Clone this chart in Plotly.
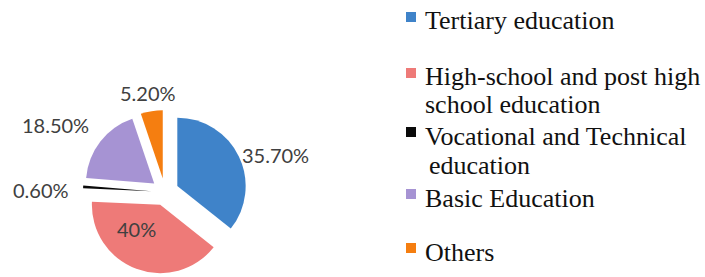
import plotly.graph_objects as go

# ---- data ----
categories = [
    "Tertiary education",
    "High-school and post high school education",
    "Vocational and Technical education",
    "Basic Education",
    "Others",
]
values = [35.7, 40.0, 0.6, 18.5, 5.2]
pct_labels = ["35.70%", "40%", "0.60%", "18.50%", "5.20%"]
legend_lines = [
    ["Tertiary education"],
    ["High-school and post high", "school education"],
    ["Vocational and Technical", "education"],
    ["Basic Education"],
    ["Others"],
]

colors = ["#3F83C9", "#EE7A78", "#0A0A0A", "#A693D3", "#F57E10"]

W, H = 705, 277


def px(x):
    return x / W


def py(y):
    return 1 - y / H


LABEL_FONT = dict(family="Lato", size=20, color="#404040")

fig = go.Figure()
fig.add_trace(go.Pie(
    labels=categories,
    values=values,
    text=pct_labels,
    textinfo="none",
    sort=False,
    direction="clockwise",
    rotation=0,
    pull=[0.2, 0.2, 0.2, 0.2, 0.2],
    marker=dict(colors=colors, line=dict(width=0)),
    domain=dict(x=[px(83), px(247)], y=[py(274), py(110)]),
    showlegend=False,
    hoverinfo="label+percent",
))

annotations = []
# percentage labels (placed as in the reference)
label_pos = [(275, 155), (136, 229), (41, 190), (55, 125), (148, 93)]
for i, (lx, ly) in enumerate(label_pos):
    annotations.append(dict(
        text=pct_labels[i], xref="paper", yref="paper",
        x=px(lx), y=py(ly), xanchor="center", yanchor="middle",
        showarrow=False, font=LABEL_FONT,
    ))

# custom legend (positions tuned to reference)
line_baselines = [[30], [86, 113], [145, 174], [207], [261]]
line_x = [[423], [423, 423], [423, 427], [423], [423]]
shapes = []
for i, cat in enumerate(categories):
    t = line_baselines[i][0] - 18
    shapes.append(dict(
        type="rect", xref="paper", yref="paper",
        x0=px(406), x1=px(416), y0=py(t + 10), y1=py(t),
        fillcolor=colors[i], line=dict(width=0),
    ))
    for j, line in enumerate(legend_lines[i]):
        annotations.append(dict(
            text=line, xref="paper", yref="paper",
            x=px(line_x[i][j]), y=py(line_baselines[i][j] - 9),
            xanchor="left", yanchor="middle", showarrow=False,
            font=dict(family="Liberation Serif", size=26, color="#111111"),
        ))

fig.update_layout(
    width=W, height=H,
    margin=dict(l=0, r=0, t=0, b=0),
    paper_bgcolor="white",
    plot_bgcolor="white",
    shapes=shapes,
    annotations=annotations,
)

fig.write_html(
    "out.html",
    config={"displayModeBar": False},
    post_script="document.body.style.margin='0';",
)
